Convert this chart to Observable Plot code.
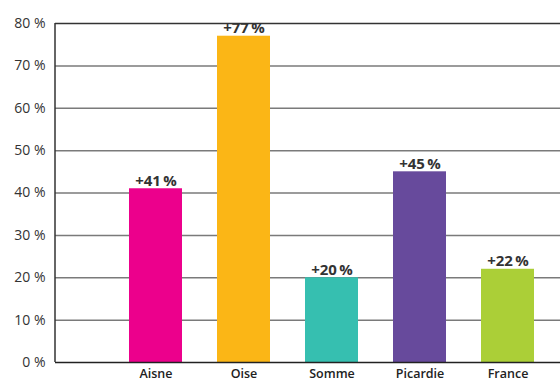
<!DOCTYPE html>
<html>
<head>
<meta charset="utf-8">
<script src="https://cdn.jsdelivr.net/npm/d3@7"></script>
<script src="https://cdn.jsdelivr.net/npm/@observablehq/plot@0.6"></script>
<style>
html, body { margin: 0; padding: 0; background: #fff; }
svg { display: block; }
</style>
</head>
<body>
<div id="chart"></div>
<script>
const categories = ["Aisne", "Oise", "Somme", "Picardie", "France"];
const values = [41, 77, 20, 45, 22];
const colors = ["#EC008C", "#FBB616", "#36BFB0", "#674A9C", "#ABCF37"];
const yTicks = [0, 10, 20, 30, 40, 50, 60, 70, 80];

const data = categories.map((c, i) => ({cat: c, value: values[i], color: colors[i]}));

const yAxisLine = (index, scales, values, dimensions) => {
  const {marginLeft, marginTop, height, marginBottom} = dimensions;
  const l = d3.create("svg:line")
    .attr("x1", marginLeft).attr("x2", marginLeft)
    .attr("y1", marginTop).attr("y2", height - marginBottom)
    .attr("stroke", "#333").attr("stroke-width", 1.5);
  return l.node();
};

const chart = Plot.plot({
  width: 560,
  height: 381,
  marginTop: 23,
  marginBottom: 19,
  marginLeft: 55,
  marginRight: 0,
  style: {fontFamily: "'Open Sans', 'DejaVu Sans', sans-serif", background: "#fff"},
  x: {domain: categories, range: [109, 554], paddingInner: 0.393, paddingOuter: 0.1966, label: null},
  y: {domain: [0, 80], label: null},
  marks: [
    Plot.ruleY(yTicks.filter(d => d > 0 && d < 80), {stroke: "#7a7a7a", strokeWidth: 1.5}),
    Plot.ruleY([80], {stroke: "#333", strokeWidth: 1.5}),
    Plot.barY(data, {x: "cat", y: "value", fill: "color"}),
    Plot.ruleY([0], {stroke: "#222", strokeWidth: 1.5}),
    yAxisLine,
    Plot.axisY({ticks: yTicks, tickSize: 0, tickPadding: 10, tickFormat: d => d + " %", fontSize: 14, color: "#333", label: null}),
    Plot.axisX({tickSize: 0, tickPadding: 7, fontSize: 12.5, fontWeight: 600, color: "#222", label: null}),
    Plot.text(data, {x: "cat", y: "value", text: d => "+" + d.value + "\u2009%", lineAnchor: "bottom", dy: -3, fontSize: 15, fontWeight: "bold", fill: "#333"})
  ]
});
document.getElementById("chart").appendChild(chart);
</script>
</body>
</html>
